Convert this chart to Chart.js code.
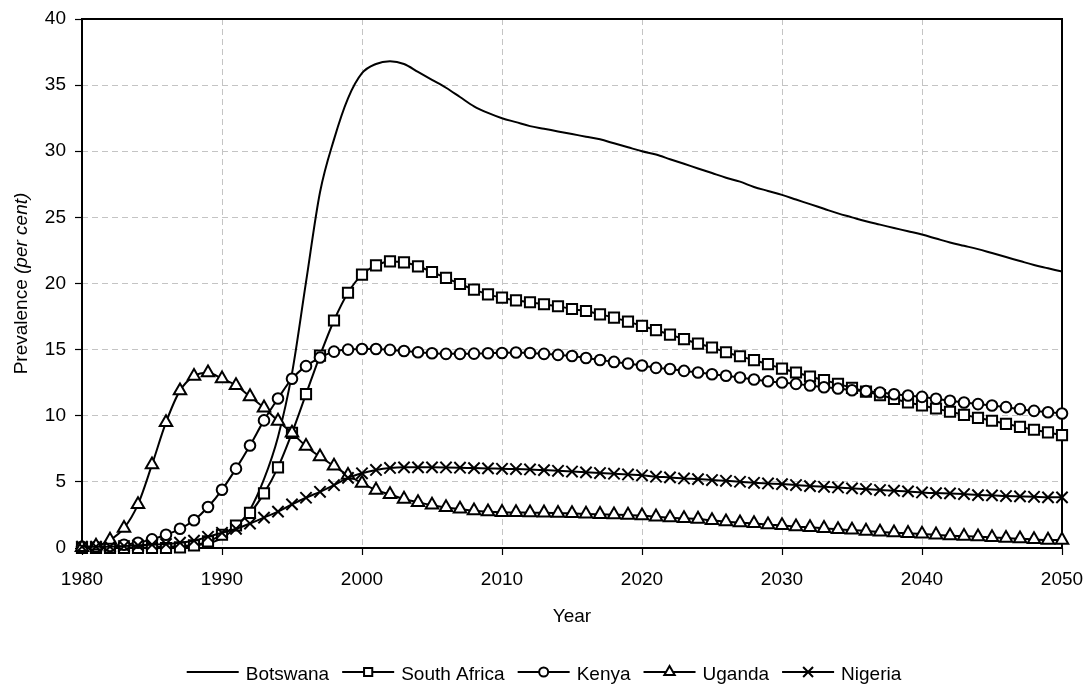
<!DOCTYPE html>
<html>
<head>
<meta charset="utf-8">
<script src="https://cdn.jsdelivr.net/npm/chart.js@4.4.1/dist/chart.umd.min.js"></script>
<style>
html,body{margin:0;padding:0;background:#fff;}
#wrap{width:1088px;height:685px;position:relative;}
</style>
</head>
<body>
<div id="wrap"><canvas id="c" width="1088" height="685"></canvas></div>
<script>
const years = [1980,1981,1982,1983,1984,1985,1986,1987,1988,1989,
  1990,1991,1992,1993,1994,1995,1996,1997,1998,1999,
  2000,2001,2002,2003,2004,2005,2006,2007,2008,2009,
  2010,2011,2012,2013,2014,2015,2016,2017,2018,2019,
  2020,2021,2022,2023,2024,2025,2026,2027,2028,2029,
  2030,2031,2032,2033,2034,2035,2036,2037,2038,2039,
  2040,2041,2042,2043,2044,2045,2046,2047,2048,2049,
  2050];

const botswana = [0,0,0,0,0,0.05,0.1,0.15,0.2,0.35,
  0.75,1.6,2.9,5.2,8.4,13.2,20.1,26.9,30.9,34.0,
  35.9,36.6,36.8,36.6,36.0,35.4,34.8,34.1,33.4,32.9,
  32.5,32.2,31.9,31.7,31.5,31.3,31.1,30.9,30.6,30.3,
  30.0,29.75,29.4,29.05,28.7,28.35,28.0,27.7,27.3,27.0,
  26.7,26.35,26.0,25.65,25.3,25.0,24.7,24.45,24.2,23.95,
  23.7,23.4,23.1,22.85,22.6,22.3,22.0,21.7,21.4,21.15,
  20.9];

const southAfrica = [0,0,0,0,0,0,0,0.05,0.2,0.5,
  1.0,1.7,2.65,4.13,6.1,8.7,11.63,14.55,17.2,19.3,
  20.67,21.37,21.67,21.6,21.3,20.87,20.42,19.96,19.54,19.18,
  18.93,18.73,18.58,18.43,18.28,18.07,17.92,17.67,17.42,17.12,
  16.79,16.47,16.14,15.79,15.46,15.16,14.8,14.5,14.2,13.9,
  13.57,13.27,12.97,12.69,12.41,12.11,11.83,11.56,11.28,11.0,
  10.78,10.55,10.3,10.07,9.84,9.62,9.39,9.16,8.94,8.74,
  8.53];

const kenya = [0.1,0.1,0.15,0.25,0.4,0.65,1.0,1.45,2.1,3.1,
  4.4,6.0,7.75,9.65,11.3,12.8,13.75,14.4,14.85,15.0,
  15.05,15.05,14.98,14.9,14.8,14.73,14.68,14.68,14.7,14.73,
  14.75,14.78,14.75,14.68,14.6,14.52,14.37,14.22,14.07,13.95,
  13.8,13.62,13.54,13.39,13.27,13.14,13.02,12.89,12.74,12.61,
  12.51,12.41,12.29,12.16,12.06,11.93,11.86,11.76,11.63,11.53,
  11.43,11.28,11.13,11.0,10.88,10.78,10.65,10.5,10.37,10.27,
  10.17];

const uganda = [0.05,0.15,0.6,1.5,3.3,6.3,9.5,11.9,13.0,13.25,
  12.8,12.3,11.45,10.6,9.6,8.7,7.7,6.9,6.2,5.5,
  4.9,4.38,4.05,3.7,3.45,3.25,3.07,2.95,2.82,2.74,
  2.7,2.69,2.67,2.66,2.64,2.62,2.58,2.55,2.52,2.49,
  2.45,2.36,2.29,2.24,2.19,2.09,1.99,1.91,1.86,1.76,
  1.71,1.61,1.56,1.49,1.41,1.36,1.28,1.21,1.16,1.11,
  1.06,1.0,0.93,0.9,0.85,0.8,0.75,0.7,0.65,0.6,
  0.6];

const nigeria = [0.1,0.1,0.1,0.15,0.2,0.25,0.3,0.4,0.55,0.85,
  1.15,1.45,1.85,2.3,2.75,3.3,3.8,4.25,4.75,5.3,
  5.65,5.9,6.05,6.1,6.1,6.1,6.09,6.07,6.04,6.02,
  5.99,5.97,5.94,5.89,5.84,5.78,5.72,5.67,5.62,5.56,
  5.5,5.39,5.34,5.26,5.21,5.14,5.08,5.01,4.93,4.88,
  4.83,4.76,4.68,4.63,4.58,4.51,4.46,4.38,4.33,4.28,
  4.2,4.15,4.13,4.08,4.0,3.98,3.93,3.9,3.87,3.83,
  3.83];

const seriesNames = ['Botswana','South Africa','Kenya','Uganda','Nigeria'];
const seriesValues = [botswana, southAfrica, kenya, uganda, nigeria];
const seriesMarkers = [false, 'rect', 'circle', 'triangle', 'crossRot'];
const markerRadius = {rect: 7.2, circle: 5.3, triangle: 7.2, crossRot: 8};
const legendMarkerRadius = {rect: 5.8, circle: 4.5, triangle: 6, crossRot: 7};

const xTitle = 'Year';
const yTitleMain = 'Prevalence ';
const yTitleItalic = '(per cent)';

const FONT = "'Liberation Sans', Arial, Helvetica, sans-serif";
Chart.defaults.font.family = FONT;
Chart.defaults.font.size = 19;
Chart.defaults.color = '#000';

function drawMarker(ctx, style, r, x, y) {
  if (!style) return;
  ctx.save();
  ctx.lineWidth = 2;
  ctx.strokeStyle = '#000';
  ctx.fillStyle = '#fff';
  ctx.beginPath();
  if (style === 'rect') {
    const s = Math.SQRT1_2 * r;
    ctx.rect(x - s, y - s, 2 * s, 2 * s);
    ctx.fill(); ctx.stroke();
  } else if (style === 'circle') {
    ctx.arc(x, y, r, 0, Math.PI * 2);
    ctx.fill(); ctx.stroke();
  } else if (style === 'triangle') {
    const h = r * Math.sin(Math.PI / 3);
    ctx.moveTo(x, y - r);
    ctx.lineTo(x + h, y + r / 2);
    ctx.lineTo(x - h, y + r / 2);
    ctx.closePath();
    ctx.fill(); ctx.stroke();
  } else if (style === 'crossRot') {
    const s = Math.SQRT1_2 * r;
    ctx.moveTo(x - s, y - s); ctx.lineTo(x + s, y + s);
    ctx.moveTo(x - s, y + s); ctx.lineTo(x + s, y - s);
    ctx.stroke();
  }
  ctx.restore();
}

const decorPlugin = {
  id: 'decor',
  beforeDatasetsDraw(chart) {
    const {ctx, chartArea: a} = chart;
    ctx.save();
    ctx.strokeStyle = '#000';
    ctx.lineWidth = 2;
    ctx.strokeRect(a.left, a.top, a.right - a.left, a.bottom - a.top);
    ctx.restore();
  },
  afterDraw(chart) {
    const {ctx, chartArea: a} = chart;
    ctx.save();
    ctx.fillStyle = '#000';
    ctx.font = '19px ' + FONT;
    ctx.textAlign = 'center';
    ctx.textBaseline = 'alphabetic';
    ctx.fillText(xTitle, (a.left + a.right) / 2, 622);
    const fNormal = '19px ' + FONT;
    const fItalic = 'italic 19px ' + FONT;
    ctx.font = fNormal;
    const w1 = ctx.measureText(yTitleMain).width;
    ctx.font = fItalic;
    const w2 = ctx.measureText(yTitleItalic).width;
    const total = w1 + w2;
    ctx.translate(27, (a.top + a.bottom) / 2);
    ctx.rotate(-Math.PI / 2);
    ctx.textAlign = 'left';
    ctx.font = fNormal;
    ctx.fillText(yTitleMain, -total / 2, 0);
    ctx.font = fItalic;
    ctx.fillText(yTitleItalic, -total / 2 + w1, 0);
    ctx.restore();

    ctx.save();
    ctx.font = '19px ' + FONT;
    ctx.textBaseline = 'alphabetic';
    ctx.textAlign = 'left';
    const lineLen = 52, gapText = 7, gapItem = 13;
    const widths = seriesNames.map(n => ctx.measureText(n).width);
    let totalW = 0;
    widths.forEach((w, i) => { totalW += lineLen + gapText + w + (i < widths.length - 1 ? gapItem : 0); });
    let x = chart.width / 2 - totalW / 2;
    const ly = 672;
    seriesNames.forEach((n, i) => {
      ctx.strokeStyle = '#000';
      ctx.lineWidth = 2;
      ctx.beginPath();
      ctx.moveTo(x, ly); ctx.lineTo(x + lineLen, ly);
      ctx.stroke();
      const st = seriesMarkers[i];
      if (st) drawMarker(ctx, st, legendMarkerRadius[st], x + lineLen / 2, ly);
      ctx.fillStyle = '#000';
      ctx.fillText(n, x + lineLen + gapText, 680);
      x += lineLen + gapText + widths[i] + gapItem;
    });
    ctx.restore();
  }
};

const datasets = seriesNames.map((name, i) => {
  const st = seriesMarkers[i];
  return {
    label: name,
    data: seriesValues[i],
    borderColor: '#000',
    borderWidth: 2,
    backgroundColor: '#fff',
    pointStyle: st || 'circle',
    pointRadius: st ? markerRadius[st] : 0,
    pointBorderWidth: 2,
    pointBorderColor: '#000',
    pointBackgroundColor: '#fff',
    pointHoverRadius: st ? markerRadius[st] : 0,
    cubicInterpolationMode: 'monotone',
    fill: false,
    clip: false,
    order: seriesNames.length - i
  };
});

new Chart(document.getElementById('c'), {
  type: 'line',
  data: { labels: years, datasets },
  options: {
    responsive: false,
    animation: false,
    events: [],
    layout: { padding: { top: 19, right: 26, left: 0, bottom: 0 } },
    plugins: { legend: { display: false }, tooltip: { enabled: false }, title: { display: false } },
    scales: {
      x: {
        type: 'linear',
        min: 1980, max: 2050,
        afterFit(scale) { scale.height = 137; scale.paddingRight = 0; scale.paddingLeft = 0; },
        border: { display: false, dash: [6, 4] },
        grid: {
          color: (c) => (c.tick && c.tick.value % 10 === 0 && c.tick.value > 1980 && c.tick.value < 2050) ? '#c4c4c4' : 'rgba(0,0,0,0)',
          lineWidth: 1,
          tickColor: '#000',
          tickLength: 7,
          tickWidth: 1.2
        },
        ticks: {
          stepSize: 5,
          autoSkip: false,
          maxRotation: 0,
          padding: 13,
          callback: (v) => (v % 10 === 0 ? String(v) : null)
        }
      },
      y: {
        min: 0, max: 40,
        afterFit(scale) { scale.width = 82; scale.paddingTop = 0; scale.paddingBottom = 0; },
        border: { display: false, dash: [6, 4] },
        grid: {
          color: (c) => (c.tick && c.tick.value > 0 && c.tick.value < 40) ? '#c4c4c4' : 'rgba(0,0,0,0)',
          lineWidth: 1,
          tickColor: '#000',
          tickLength: 7,
          tickWidth: 1.2
        },
        ticks: { stepSize: 5, padding: 9 }
      }
    }
  },
  plugins: [decorPlugin]
});
</script>
</body>
</html>
